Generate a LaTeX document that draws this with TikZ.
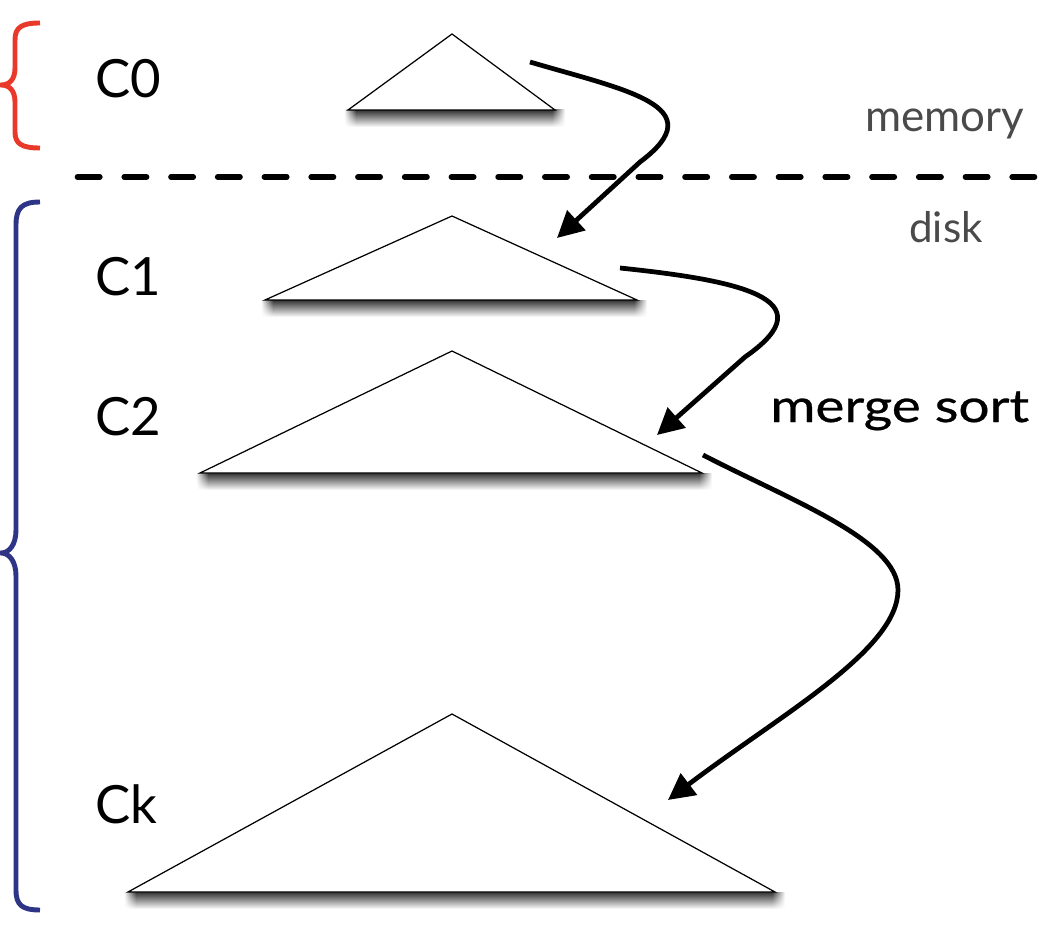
\documentclass[tikz,border=0pt]{standalone}
\usepackage{fontspec}
\setmainfont{Lato}
\newfontfamily\msfont{Lato}[FakeBold=0.6]
\usetikzlibrary{arrows.meta,fadings}
\definecolor{bracered}{HTML}{E8392A}
\definecolor{braceblue}{HTML}{2E3586}
\definecolor{labelgray}{HTML}{4A4A4A}
\tikzfading[name=fadeL, left color=transparent!100, right color=transparent!0]
\tikzfading[name=fadeR, left color=transparent!0, right color=transparent!100]
\tikzset{
  tri/.style={draw=black, line width=0.7pt, fill=white, line join=miter},
  shadowband/.style={top color=black!80, bottom color=white, draw=none},
  flow/.style={line width=2.7pt, -{Triangle[length=15pt,width=15pt]}},
  bracepath/.style={line width=2.8pt, line join=round},
  lvl/.style={font=\fontsize{30}{30}\selectfont, anchor=base west, inner sep=0pt},
  side/.style={font=\fontsize{25}{25}\selectfont, text=labelgray, anchor=base west, inner sep=0pt},
  mlabel/.style={font=\fontsize{26}{26}\msfont, anchor=base west, inner sep=0pt},
  sepline/.style={line width=3.2pt, dash pattern=on 12.7pt off 13.9pt, line cap=round}
}
\newcommand\baseshadow[3]{%
  \shade[shadowband] (#1+8,#3) rectangle (#2-3,#3+17);
  \shade[shadowband, path fading=fadeL] (#1-4,#3) rectangle (#1+8,#3+17);
  \shade[shadowband, path fading=fadeR] (#2-3,#3) rectangle (#2+10,#3+17);
}
\begin{document}
\begin{tikzpicture}[x=0.02cm, y=-0.02cm]
\useasboundingbox (0,0) rectangle (1046,936);
% braces
\draw[bracepath, bracered] (40,23) .. controls (22,23) and (15,27) .. (15,40) -- (15,68)
  .. controls (15,80) and (9,85) .. (1,85) .. controls (9,85) and (15,90) .. (15,102)
  -- (15,132) .. controls (15,144) and (22,148) .. (40,148);
\draw[bracepath, braceblue] (40,202) .. controls (22,202) and (16,208) .. (16,225) -- (16,530)
  .. controls (16,545) and (9,553) .. (1,553) .. controls (9,553) and (16,561) .. (16,576)
  -- (16,890) .. controls (16,905) and (22,910) .. (40,910);
% separator
\draw[sepline] (77.5,177) -- (1046,177);
% shadows
\baseshadow{348}{555}{110}
\baseshadow{265}{637}{300}
\baseshadow{200}{702}{473}
\baseshadow{128}{775}{892}
% triangles
\draw[tri] (452,34) -- (555,110) -- (348,110) -- cycle;
\draw[tri] (452,216) -- (637,300) -- (265,300) -- cycle;
\draw[tri] (452,351) -- (702,473) -- (200,473) -- cycle;
\draw[tri] (452,714) -- (775,892) -- (128,892) -- cycle;
% labels
\node[lvl] (c0) at (95,98) {C0};
\node[lvl] (c1) at (95,296) {C1};
\node[lvl] (c2) at (95,436) {C2};
\node[lvl] (ck) at (95,823) {Ck};
\node[side] (mem) at (865,132) {memory};
\node[side, font=\fontsize{24}{24}\selectfont] (dsk) at (909,243) {disk};
\node[mlabel] (ms) at (770,422) {\scalebox{1.2}[1]{merge sort}};
% arrow end points
\coordinate (a1s) at (530,62);
\coordinate (a1m) at (640,162);
\coordinate (a1e) at (557,238);
\coordinate (a2s) at (620,268);
\coordinate (a2m) at (745,357);
\coordinate (a2e) at (657,435);
\coordinate (a3s) at (703,455);
\coordinate (a3m) at (898,590);
\coordinate (a3e) at (668,800);
\draw[flow] (a1s) .. controls (625,90) and (715,106) .. (a1m) -- (a1e);
\draw[flow] (a2s) .. controls (735,280) and (830,298) .. (a2m) -- (a2e);
\draw[flow] (a3s) .. controls (790,500) and (898,540) .. (a3m) .. controls (898,650) and (780,715) .. (a3e);
\end{tikzpicture}
\end{document}
